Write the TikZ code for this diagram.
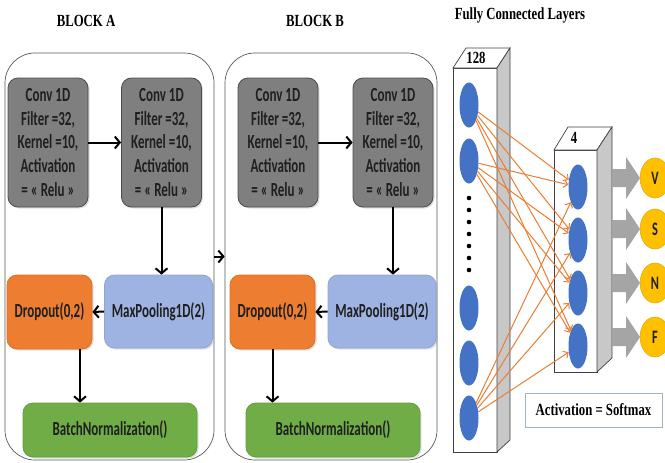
\documentclass[tikz,border=0pt]{standalone}
\usepackage{fontspec}
\setmainfont{Liberation Serif}
\newfontfamily\boxfont[FakeStretch=0.65]{Carlito}
\newfontfamily\titlefont[FakeStretch=0.75]{Liberation Serif}
\usetikzlibrary{arrows.meta,shapes.geometric,shadows}

\definecolor{blockline}{HTML}{595959}
\definecolor{convfill}{HTML}{7F7F7F}
\definecolor{convline}{HTML}{4D4D4D}
\definecolor{darktext}{HTML}{1F1F1F}
\definecolor{poolfill}{HTML}{9EB3E2}
\definecolor{poolline}{HTML}{8EA5D6}
\definecolor{dropfill}{HTML}{ED7D31}
\definecolor{dropline}{HTML}{E06F22}
\definecolor{normfill}{HTML}{70AD47}
\definecolor{normline}{HTML}{62A03C}
\definecolor{neuronblue}{HTML}{4472C4}
\definecolor{wireorange}{HTML}{ED7D31}
\definecolor{sidegray}{HTML}{C8C8C8}
\definecolor{layline}{HTML}{404040}
\definecolor{outarrow}{HTML}{A5A5A5}
\definecolor{outfill}{HTML}{FFC000}
\definecolor{outline}{HTML}{E3AA00}
\definecolor{softline}{HTML}{9DB3CC}

\begin{document}
\begin{tikzpicture}[x=1pt,y=-1pt,
  blockframe/.style={draw=blockline, line width=0.7pt, rounded corners=30pt,
    fill=white, inner sep=0pt},
  boxshadow/.style={drop shadow={opacity=0.25, shadow xshift=1.5pt, shadow yshift=-1.5pt}},
  layerbox/.style={rounded corners=10pt, line width=0.8pt, align=center,
    inner sep=0pt, text=darktext, boxshadow,
    font=\boxfont\bfseries\fontsize{20}{23.8}\selectfont},
  convbox/.style={layerbox, draw=convline, fill=convfill,
    minimum width=80pt, minimum height=129pt},
  poolbox/.style={layerbox, draw=poolline, fill=poolfill,
    minimum width=108pt, minimum height=73pt},
  dropbox/.style={layerbox, draw=dropline, fill=dropfill,
    minimum width=85pt, minimum height=74pt},
  normbox/.style={layerbox, draw=normline, fill=normfill,
    minimum width=174pt, minimum height=54pt},
  flow/.style={line width=2pt, -{Straight Barb[length=5pt,width=12pt,line width=2pt]}},
  heading/.style={font=\titlefont\bfseries\fontsize{17}{20}\selectfont},
  neuron/.style={ellipse, fill=neuronblue, minimum width=19pt,
    minimum height=45pt, inner sep=0pt},
  wire/.style={draw=wireorange, line width=1pt,
    -{Straight Barb[length=4pt,width=8pt,line width=1pt]}},
  outnode/.style={ellipse, fill=outfill, draw=outline, line width=0.5pt,
    minimum width=30pt, minimum height=40pt, inner sep=0pt,
    font=\boxfont\bfseries\fontsize{19}{19}\selectfont, text=darktext},
  face/.style={draw=layline, line width=0.7pt}
]
\useasboundingbox (0,0) rectangle (665,463);

% headings
\node[heading] (tA) at (86,21) {BLOCK A};
\node[heading] (tB) at (315,21) {BLOCK B};
\node[heading] (tFC) at (520,15) {Fully Connected Layers};

% outer frames of the two convolution blocks
\node[blockframe, minimum width=209pt, minimum height=407pt] (blockA) at (109.5,256.5) {};
\node[blockframe, minimum width=212pt, minimum height=407pt] (blockB) at (331,256.5) {};

% block A layers
\node[convbox] (cA1) at (48,142.5) {Conv 1D\\Filter =32,\\Kernel =10,\\Activation\\= « Relu »};
\node[convbox] (cA2) at (161.5,142.5) {Conv 1D\\Filter =32,\\Kernel =10,\\Activation\\= « Relu »};
\node[poolbox] (pA) at (158.5,311.5) {MaxPooling1D(2)};
\node[dropbox] (dA) at (49.5,312) {Dropout(0,2)};
\node[normbox] (bA) at (110,430) {BatchNormalization()};

% block B layers
\node[convbox] (cB1) at (278,142.5) {Conv 1D\\Filter =32,\\Kernel =10,\\Activation\\= « Relu »};
\node[convbox] (cB2) at (393,142.5) {Conv 1D\\Filter =32,\\Kernel =10,\\Activation\\= « Relu »};
\node[poolbox] (pB) at (382,311.5) {MaxPooling1D(2)};
\node[dropbox] (dB) at (272.5,312) {Dropout(0,2)};
\node[normbox] (bB) at (333,430) {BatchNormalization()};

% data flow inside the blocks
\draw[flow] (cA1.east) -- (cA2.west);
\draw[flow] (cA2.south) -- (cA2.south |- pA.north);
\draw[flow] (pA.west) -- (dA.east);
\draw[flow] ([xshift=30.5pt]dA.south) -- ([xshift=30.5pt]dA.south |- bA.north);
\draw[flow] (cB1.east) -- (cB2.west);
\draw[flow] (cB2.south) -- (cB2.south |- pB.north);
\draw[flow] (pB.west) -- (dB.east);
\draw[flow] (dB.south) -- (dB.south |- bB.north);
\draw[flow] (blockA.east) -- (blockB.west);

% dense layer with 128 units (drawn as a slab)
\draw[face, fill=white] (453,68) rectangle (497,452);
\draw[face, fill=white] (453,68) -- (466,48) -- (510,48) -- (497,68) -- cycle;
\draw[face, fill=sidegray] (497,68) -- (510,48) -- (510,440) -- (497,452) -- cycle;
\node[font=\titlefont\bfseries\fontsize{17}{20}\selectfont] (l128) at (476,58) {128};

% dense layer with 4 units
\draw[face, fill=white] (554,150) rectangle (597,372);
\draw[face, fill=white] (554,150) -- (568,127) -- (612,127) -- (597,150) -- cycle;
\draw[face, fill=sidegray] (597,150) -- (612,127) -- (612,358) -- (597,372) -- cycle;
\node[font=\titlefont\bfseries\fontsize{17}{20}\selectfont] (l4) at (574,138) {4};

% units
\node[neuron] (n1) at (469,105) {};
\node[neuron] (n2) at (469,161) {};
\node[neuron] (n3) at (469,308) {};
\node[neuron] (n4) at (469,363) {};
\node[neuron] (n5) at (469,418) {};
\foreach \yy in {198,210,...,270} \fill (469,\yy) circle (2.3pt);

\node[neuron] (h1) at (578,187) {};
\node[neuron] (h2) at (578,240) {};
\node[neuron] (h3) at (578,293) {};
\node[neuron] (h4) at (578,346) {};

% connections
\foreach \s in {n1,n2,n5}
  \foreach \t in {h1,h2,h3,h4}
    \draw[wire] (\s) -- (\t);

% outputs
\foreach \yy/\lab in {178/V,229/S,283/N,337/F}{
  \fill[outarrow] (612,\yy-9) -- (626,\yy-9) -- (626,\yy-21) -- (640,\yy)
    -- (626,\yy+21) -- (626,\yy+9) -- (612,\yy+9) -- cycle;
  \node[outnode] (o\lab) at (655,\yy) {\lab};
}

% activation note
\node[draw=softline, line width=0.9pt, minimum width=137pt, minimum height=34pt,
  inner sep=0pt, font=\titlefont\bfseries\fontsize{17}{19}\selectfont] (act)
  at (593.5,410) {Activation = Softmax};
\end{tikzpicture}
\end{document}
